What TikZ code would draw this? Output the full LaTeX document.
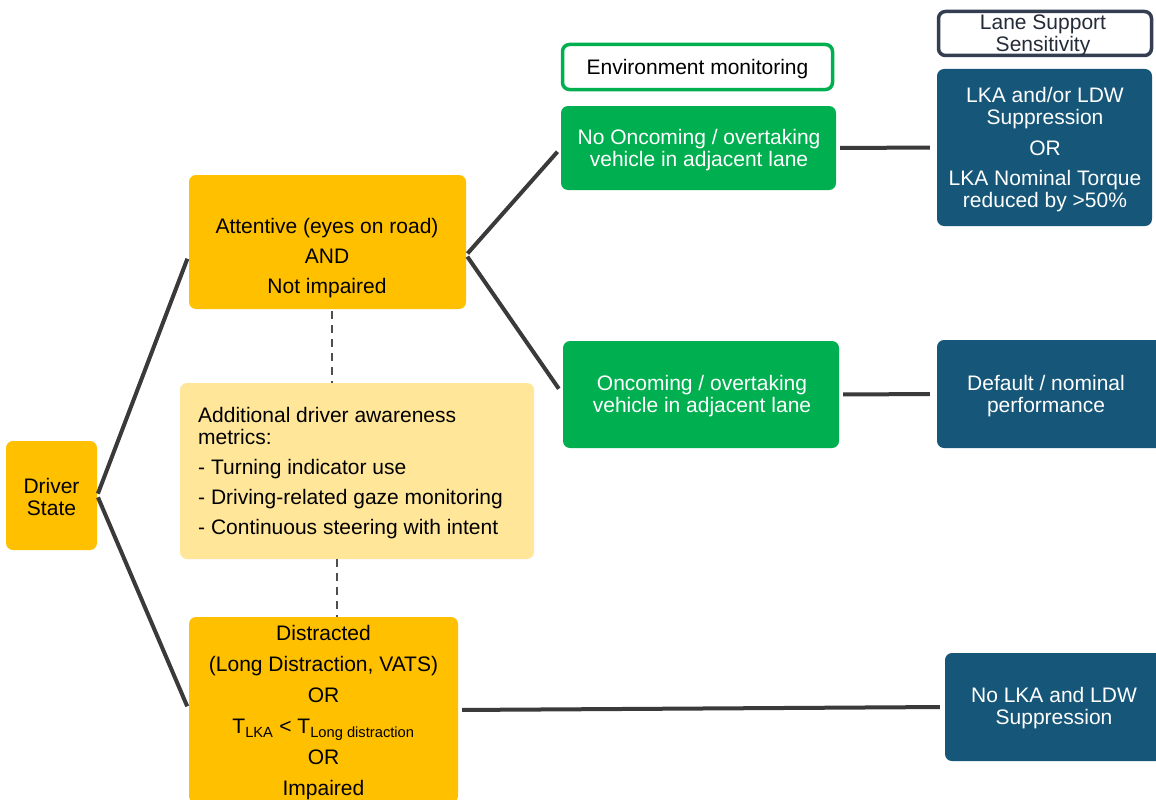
\documentclass[tikz,border=0pt]{standalone}
\usepackage{fontspec}
\setmainfont{Liberation Sans}
\definecolor{orng}{HTML}{FFC000}
\definecolor{lyel}{HTML}{FFE699}
\definecolor{grn}{HTML}{00B050}
\definecolor{dblue}{RGB}{22,87,121}
\definecolor{slate}{HTML}{333F50}
\definecolor{conn}{HTML}{3A3A3A}
\begin{document}
\begin{tikzpicture}[x=1pt,y=-1pt,
  box/.style={rounded corners=7pt, inner sep=0pt, draw=none},
  txt/.style={align=center, inner sep=0pt, font=\fontsize{21}{22}\selectfont},
  link/.style={draw=conn, line width=4pt},
  dline/.style={draw=conn!90, line width=2pt, dash pattern=on 8pt off 6pt}]
\clip (0,0) rectangle (1156,800);
\fill[white] (0,0) rectangle (1156,800);
% boxes
\node[box, fill=orng, minimum width=91, minimum height=109] (ds) at (51.5,495.5) {};
\node[box, fill=orng, minimum width=277, minimum height=134] (att) at (327.5,242) {};
\node[box, fill=lyel, minimum width=354, minimum height=176] (add) at (357,471) {};
\node[box, fill=orng, minimum width=269, minimum height=186] (dis) at (323.5,710) {};
\node[box, draw=grn, line width=3.5pt, fill=white, minimum width=270, minimum height=45] (env) at (697.5,67) {};
\node[box, fill=grn, minimum width=275, minimum height=84] (nov) at (698.5,148) {};
\node[box, fill=grn, minimum width=276, minimum height=107] (onv) at (701,394.5) {};
\node[box, draw=slate, line width=3.5pt, fill=white, minimum width=213, minimum height=44] (lss) at (1045,33.5) {};
\node[box, fill=dblue, minimum width=215, minimum height=157] (lka) at (1044.5,147.5) {};
\node[box, fill=dblue, minimum width=226, minimum height=108] (def) at (1050,394) {};
\node[box, fill=dblue, minimum width=218, minimum height=108] (nol) at (1054,707) {};
% texts
\node[txt] (tds) at (51.5,497) {Driver\\State};
\node[txt] (tatt) at (327,258) {Attentive (eyes on road)\\[8pt]AND\\[8pt]Not impaired};
\node[txt, align=left, anchor=west] (tadd) at (198,473) {Additional driver awareness\\metrics:\\[8pt]- Turning indicator use\\[8pt]- Driving-related gaze monitoring\\[8pt]- Continuous steering with intent};
\node[txt] (tdis) at (323.5,713) {Distracted\\[9pt](Long Distraction, VATS)\\[9pt]OR\\[9pt]T\textsubscript{LKA} < T\textsubscript{Long distraction}\\[9pt]OR\\[9pt]Impaired};
\node[txt] (tenv) at (697.5,69) {Environment monitoring};
\node[txt, text=white] (tnov) at (699,150) {No Oncoming / overtaking\\vehicle in adjacent lane};
\node[txt, text=white] (tonv) at (702,396) {Oncoming / overtaking\\vehicle in adjacent lane};
\node[txt, text=slate!70!black] (tlss) at (1043,35) {Lane Support\\Sensitivity};
\node[txt, text=white] (tlka) at (1045,150) {LKA and/or LDW\\Suppression\\[9pt]OR\\[8pt]LKA Nominal Torque\\reduced by >50\%};
\node[txt, text=white] (tdef) at (1046,396) {Default / nominal\\performance};
\node[txt, text=white] (tnol) at (1054,708) {No LKA and LDW\\Suppression};
% connectors
\draw[link, shorten <=2pt, shorten >=4pt] (ds.east) -- ([yshift=-13pt]att.west);
\draw[link, shorten <=2pt, shorten >=4pt] (ds.east) -- (dis.west);
\draw[link, shorten <=2pt, shorten >=5pt] ([yshift=-13pt]att.east) -- (nov.west);
\draw[link, shorten <=2pt, shorten >=7pt] ([yshift=-13pt]att.east) -- (onv.west);
\draw[link, shorten <=4pt, shorten >=7pt] (nov.east) -- (lka.west);
\draw[link, shorten <=4pt, shorten >=7pt] (onv.east) -- (def.west);
\draw[link, shorten <=4pt, shorten >=5pt] (dis.east) -- (nol.west);
\coordinate (d1) at (332,0);
\coordinate (d2) at (337,0);
\draw[dline, shorten <=2pt] (att.south -| d1) -- (add.north -| d1);
\draw[dline] (add.south -| d2) -- (dis.north -| d2);
\end{tikzpicture}
\end{document}
